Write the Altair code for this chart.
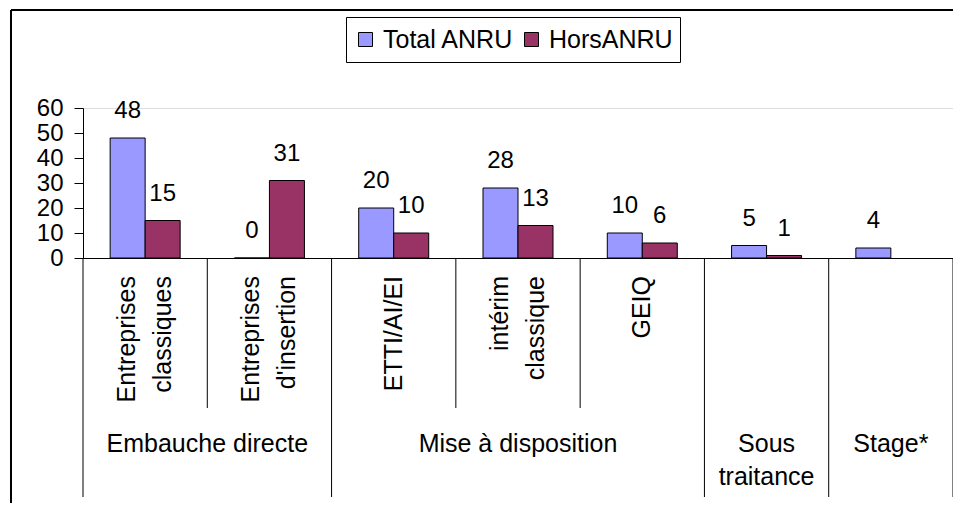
import altair as alt
import pandas as pd

# ---- data ----
groups = ["Embauche directe", "Embauche directe", "Mise à disposition",
          "Mise à disposition", "Mise à disposition", "Sous\ntraitance", "Stage*"]
subcats = ["Entreprises\nclassiques", "Entreprises\nd'insertion", "ETTI/AI/EI",
           "intérim\nclassique", "GEIQ", "", ""]
series = ["Total ANRU", "HorsANRU"]
total_anru = [48, 0, 20, 28, 10, 5, 4]
hors_anru = [15, 31, 10, 13, 6, 1, None]
colors = ["#9999FF", "#993366"]
y_ticks = [0, 10, 20, 30, 40, 50, 60]

FONT = "Liberation Sans, Arial, sans-serif"
FS = 24
FS2 = 25
W, H = 870, 150

slots = [f"{g}|{s}" for g, s in zip(groups, subcats)]
n = len(slots)

rows = []
for i, k in enumerate(slots):
    for s, vals in zip(series, [total_anru, hors_anru]):
        if vals[i] is not None:
            rows.append({"slot": k, "series": s, "value": vals[i]})
bars_df = pd.DataFrame(rows)

sub_df = pd.DataFrame([{"slot": k, "label": s, "multi": "\n" in s}
                       for k, s in zip(slots, subcats) if s])

edges = []
for i in range(n):
    kind = "group" if i == 0 or groups[i] != groups[i - 1] else "inner"
    edges.append({"pos": i, "kind": kind})
edges.append({"pos": n, "kind": "group"})
edges_df = pd.DataFrame(edges)

glab = {}
for i, g in enumerate(groups):
    glab.setdefault(g, []).append(i + 0.5)
grp_df = pd.DataFrame([{"group": g, "center": sum(v) / len(v)} for g, v in glab.items()])

xband = alt.Scale(domain=slots, paddingInner=0, paddingOuter=0)
slot_w = W / n
bar_w = 35
pad_o = (slot_w / bar_w - 2) / 2
xoff = alt.Scale(domain=series, paddingInner=0, paddingOuter=pad_o)
xquant = alt.Scale(domain=[0, n], nice=False, zero=False)
yscale = alt.Scale(domain=[0, 60], nice=False)
yaxis = alt.Axis(values=y_ticks, title=None, grid=False, labelFont=FONT, labelFontSize=FS,
                 labelColor="black", tickColor="black", domainColor="black", tickSize=9,
                 labelPadding=11)

one = pd.DataFrame({"a": [0]})
frame_top = alt.Chart(one).mark_rule(color="black", strokeWidth=2).encode(
    x=alt.value(-72), x2=alt.value(900), y=alt.value(-98))
frame_left = alt.Chart(one).mark_rule(color="black", strokeWidth=2).encode(
    x=alt.value(-72), y=alt.value(-98), y2=alt.value(420))

bars = alt.Chart(bars_df).mark_bar(stroke="black", strokeWidth=1).encode(
    x=alt.X("slot:N", scale=xband, sort=slots,
            axis=alt.Axis(labels=False, ticks=False, domain=True, domainColor="black",
                          title=None, grid=False)),
    xOffset=alt.XOffset("series:N", scale=xoff, sort=series),
    y=alt.Y("value:Q", scale=yscale, axis=yaxis),
    color=alt.Color("series:N", scale=alt.Scale(domain=series, range=colors),
                    legend=alt.Legend(orient="none", legendX=263, legendY=-91,
                                      direction="horizontal", title=None,
                                      strokeColor="black", fillColor="white", padding=7,
                                      clipHeight=31,
                                      symbolType="square", symbolSize=196,
                                      symbolStrokeColor="black", symbolStrokeWidth=1,
                                      labelFont=FONT, labelFontSize=FS2, labelColor="black",
                                      labelOffset=5, columnPadding=5)),
)

values = alt.Chart(bars_df).mark_text(
    baseline="alphabetic", dy=-20, font=FONT, fontSize=FS, color="black"
).encode(
    x=alt.X("slot:N", scale=xband, sort=slots, axis=None),
    xOffset=alt.XOffset("series:N", scale=xoff, sort=series),
    y=alt.Y("value:Q", scale=yscale, axis=yaxis),
    text="value:Q",
)

sub_common = dict(angle=270, align="right", baseline="middle", lineBreak="\n",
                  lineHeight=36, font=FONT, fontSize=FS2, color="black")
sub_enc = dict(x=alt.X("slot:N", scale=xband, sort=slots, axis=None),
               y=alt.value(168), text="label:N")
sublabels_multi = alt.Chart(sub_df).transform_filter(alt.datum.multi).mark_text(
    dy=-18, **sub_common).encode(**sub_enc)
sublabels_single = alt.Chart(sub_df).transform_filter(~alt.datum.multi).mark_text(
    **sub_common).encode(**sub_enc)

inner_rules = alt.Chart(edges_df).transform_filter(alt.datum.kind == "inner").mark_rule(
    color="black", strokeWidth=1
).encode(
    x=alt.X("pos:Q", scale=xquant, axis=None),
    y=alt.value(H), y2=alt.value(300),
)
group_rules = alt.Chart(edges_df).transform_filter(alt.datum.kind == "group").mark_rule(
    color="black", strokeWidth=1
).encode(
    x=alt.X("pos:Q", scale=xquant, axis=None),
    y=alt.value(H), y2=alt.value(389),
)

group_labels = alt.Chart(grp_df).mark_text(
    align="center", baseline="alphabetic", lineBreak="\n", lineHeight=33,
    font=FONT, fontSize=FS2, color="black"
).encode(
    x=alt.X("center:Q", scale=xquant, axis=None),
    y=alt.value(344),
    text="group:N",
)

chart = alt.layer(
    frame_top, frame_left, bars, values, sublabels_multi, sublabels_single,
    inner_rules, group_rules, group_labels
).resolve_scale(x="independent").properties(
    width=W, height=H,
    autosize=alt.AutoSizeParams(type="none"),
    padding={"left": 75, "top": 100, "right": 0, "bottom": 245},
).configure_view(strokeWidth=0).configure(background="white")

chart.save("out.html", embed_options={"renderer": "svg", "actions": False})
